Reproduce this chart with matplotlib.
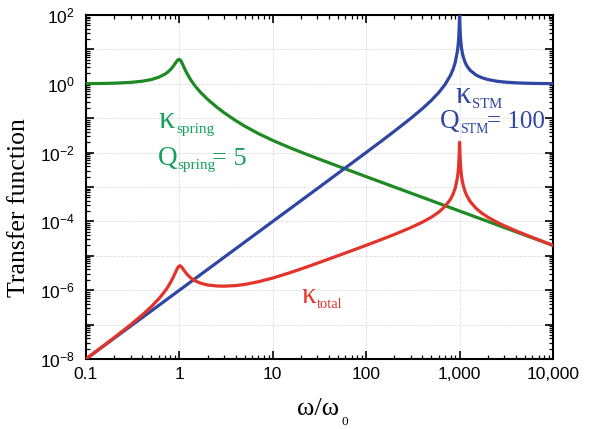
import math
import matplotlib
matplotlib.use("Agg")
import matplotlib.pyplot as plt
from matplotlib.ticker import FixedLocator, LogLocator, NullFormatter, FuncFormatter

plt.rcParams['font.family'] = ['Liberation Sans', 'DejaVu Sans']
plt.rcParams['mathtext.fontset'] = 'custom'
plt.rcParams['mathtext.rm'] = 'Liberation Sans'
plt.rcParams['mathtext.it'] = 'Liberation Sans:italic'

# omega / omega_0
w = [0.1, 0.15, 0.2, 0.3, 0.4, 0.5, 0.6, 0.7, 0.75, 0.8,
     0.85, 0.9, 0.95, 0.98, 1.0, 1.02, 1.05, 1.1, 1.15, 1.2,
     1.3, 1.4, 1.5, 1.7, 2, 2.5, 3, 4, 5, 7,
     10, 15, 20, 30, 50, 70, 100, 150, 200, 300,
     400, 500, 600, 700, 800, 850, 900, 950, 970, 980,
     990, 995, 1000, 1005, 1010, 1020, 1030, 1050, 1070, 1100,
     1150, 1200, 1300, 1500, 1700, 2000, 2500, 3000, 4000, 5000,
     7000, 10000]

k_spring = [1.010, 1.023, 1.042, 1.099, 1.189, 1.328, 1.547, 1.909, 2.186, 2.570,
            3.117, 3.882, 4.767, 5.096, 5.099, 4.908, 4.373, 3.367, 2.590, 2.052,
            1.401, 1.038, 0.812, 0.550, 0.356, 0.212, 0.1454, 0.0853, 0.0589, 0.0358,
            0.02258, 0.01412, 0.01033, 6.77e-3, 4.02e-3, 2.87e-3, 2.00e-3, 1.334e-3, 1.00e-3, 6.67e-4,
            5.0e-4, 4.0e-4, 3.33e-4, 2.86e-4, 2.5e-4, 2.35e-4, 2.22e-4, 2.11e-4, 2.06e-4, 2.04e-4,
            2.02e-4, 2.01e-4, 2.0e-4, 1.99e-4, 1.98e-4, 1.96e-4, 1.94e-4, 1.90e-4, 1.87e-4, 1.82e-4,
            1.74e-4, 1.67e-4, 1.54e-4, 1.33e-4, 1.18e-4, 1.0e-4, 8.0e-5, 6.67e-5, 5.0e-5, 4.0e-5,
            2.86e-5, 2.0e-5]

k_stm = [1e-8, 2.25e-8, 4e-8, 9e-8, 1.6e-7, 2.5e-7, 3.6e-7, 4.9e-7, 5.63e-7, 6.4e-7,
         7.23e-7, 8.1e-7, 9.03e-7, 9.6e-7, 1e-6, 1.04e-6, 1.10e-6, 1.21e-6, 1.32e-6, 1.44e-6,
         1.69e-6, 1.96e-6, 2.25e-6, 2.89e-6, 4e-6, 6.25e-6, 9e-6, 1.6e-5, 2.5e-5, 4.9e-5,
         1e-4, 2.25e-4, 4e-4, 9.0e-4, 2.51e-3, 4.92e-3, 0.0101, 0.0230, 0.0417, 0.0989,
         0.190, 0.333, 0.5625, 0.961, 1.778, 2.604, 4.263, 9.21, 15.71, 23.54,
         44.1, 70.3, 100, 71.2, 45.4, 25.0, 17.2, 10.7, 7.88, 5.75,
         4.10, 3.27, 2.45, 1.80, 1.53, 1.333, 1.19, 1.125, 1.067, 1.042,
         1.021, 1.010]

k_total = [1.01e-8, 2.30e-8, 4.17e-8, 9.89e-8, 1.90e-7, 3.32e-7, 5.57e-7, 9.35e-7, 1.23e-6, 1.645e-6,
           2.25e-6, 3.14e-6, 4.30e-6, 4.89e-6, 5.10e-6, 5.11e-6, 4.82e-6, 4.07e-6, 3.43e-6, 2.96e-6,
           2.37e-6, 2.04e-6, 1.83e-6, 1.59e-6, 1.42e-6, 1.325e-6, 1.31e-6, 1.36e-6, 1.47e-6, 1.76e-6,
           2.26e-6, 3.18e-6, 4.13e-6, 6.10e-6, 1.01e-5, 1.41e-5, 2.02e-5, 3.07e-5, 4.17e-5, 6.59e-5,
           9.52e-5, 1.33e-4, 1.875e-4, 2.745e-4, 4.445e-4, 6.13e-4, 9.47e-4, 1.94e-3, 3.24e-3, 4.81e-3,
           8.91e-3, 1.41e-2, 2.0e-2, 1.42e-2, 8.98e-3, 4.90e-3, 3.34e-3, 2.04e-3, 1.47e-3, 1.05e-3,
           7.13e-4, 5.46e-4, 3.77e-4, 2.4e-4, 1.80e-4, 1.33e-4, 9.52e-5, 7.5e-5, 5.33e-5, 4.17e-5,
           2.92e-5, 2.02e-5]

x_ticks = [0.1, 1, 10, 100, 1000, 10000]
x_ticklabels = ['0.1', '1', '10', '100', '1,000', '10,000']
y_major = [10.0 ** e for e in range(-8, 3)]

green = '#1e8a23'
blue = '#2f46a3'
red = '#e3342b'
green_txt = '#16a05e'

W, H = 589, 429
fig = plt.figure(figsize=(W / 100, H / 100), dpi=100)
ax = fig.add_axes([86 / W, 1 - 359 / H, 467 / W, 344 / H])

ax.plot(w, k_spring, color=green, lw=2.3, zorder=3)
ax.plot(w, k_stm, color=blue, lw=2.3, zorder=3)
ax.plot(w, k_total, color=red, lw=2.3, zorder=4)

ax.set_xscale('log')
ax.set_yscale('log')
ax.set_xlim(0.1, 10000)
ax.set_ylim(1e-8, 1e2)

ax.xaxis.set_major_locator(FixedLocator(x_ticks))
ax.set_xticklabels(x_ticklabels)
ax.xaxis.set_minor_locator(LogLocator(base=10, subs=range(2, 10), numticks=50))
ax.xaxis.set_minor_formatter(NullFormatter())


def ylab(v, pos):
    e = round(math.log10(v))
    return '$10^{%d}$' % e if e % 2 == 0 else ''


ax.yaxis.set_major_locator(FixedLocator(y_major))
ax.yaxis.set_major_formatter(FuncFormatter(ylab))
ax.yaxis.set_minor_locator(LogLocator(base=10, subs=range(2, 10), numticks=50))
ax.yaxis.set_minor_formatter(NullFormatter())

ax.tick_params(which='both', direction='in', top=True, right=True, labelsize=12.5,
               color='black')
ax.tick_params(axis='x', pad=5.5)
ax.tick_params(axis='y', pad=8)
ax.tick_params(which='major', length=6, width=1.2)
ax.tick_params(which='minor', length=3, width=0.9)
for s in ax.spines.values():
    s.set_linewidth(1.5)

ax.grid(True, which='major', color='#dddddd', linestyle='--', linewidth=0.6)
ax.set_axisbelow(True)

serif = 'Liberation Serif'


def put(px, py, s, size, color='black', **kw):
    # px, py: pixel position (left, baseline) measured from the top-left corner
    fig.text(px / W, 1 - py / H, s, fontsize=size, color=color, fontfamily=serif,
             ha='left', va='baseline', **kw)


# axis labels
fig.text(19.5 / W, 1 - 208 / H, 'Transfer function', fontfamily=serif, fontsize=18.5,
         rotation=90, ha='center', va='center')
put(297, 415, 'ω/ω', 19)
put(342, 425, '0', 9.5)

# curve labels
put(158, 128, 'κ', 23, green_txt)
put(176, 133, 'spring', 11, green_txt)
put(158, 165, 'Q', 19.5, green_txt)
put(177, 169, 'spring', 11, green_txt)
put(212, 165, '= 5', 19, green_txt)

put(455, 103, 'κ', 22, blue)
put(472, 108, 'STM', 10.5, blue)
put(440, 128, 'Q', 19.5, blue)
put(460, 133, 'STM', 10, blue)
put(487, 128, '= 100', 18, blue)

put(301, 303, 'κ', 21, red)
put(317, 308, 'total', 10.5, red)

fig.savefig('out.png', dpi=100)
